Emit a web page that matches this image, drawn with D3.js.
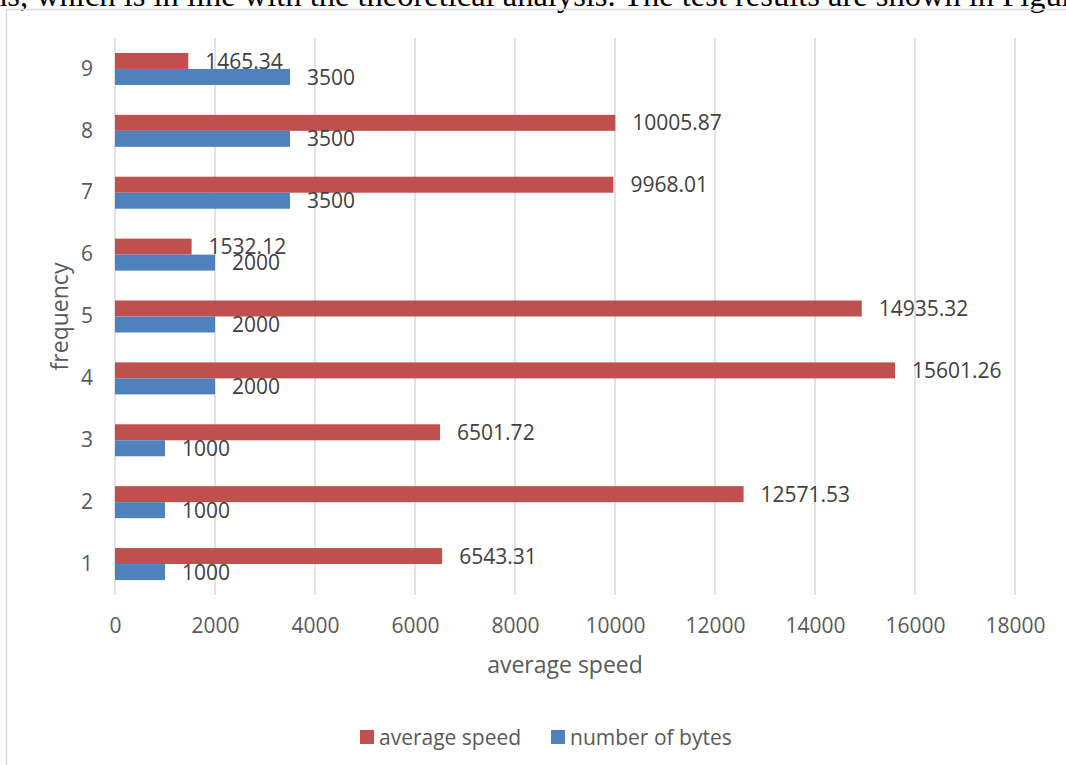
<!DOCTYPE html>
<html>
<head>
<meta charset="utf-8">
<script src="https://cdn.jsdelivr.net/npm/d3@7"></script>
<style>
  body { margin: 0; background: #fff; }
  svg text { font-family: "Open Sans", "Noto Sans", sans-serif; }
</style>
</head>
<body>
<div id="chart"></div>
<script>
// data
var categories = ["1", "2", "3", "4", "5", "6", "7", "8", "9"];
var averageSpeed = [6543.31, 12571.53, 6501.72, 15601.26, 14935.32, 1532.12, 9968.01, 10005.87, 1465.34];
var numberOfBytes = [1000, 1000, 1000, 2000, 2000, 2000, 3500, 3500, 3500];
var xTicks = [0, 2000, 4000, 6000, 8000, 10000, 12000, 14000, 16000, 18000];
var seriesNames = ["average speed", "number of bytes"];
var seriesColors = ["#C0504D", "#4F81BD"];

var width = 1066, height = 765;
var svg = d3.select("#chart").append("svg")
  .attr("width", width)
  .attr("height", height);

// leftover text of the page above the figure
svg.append("text")
  .attr("x", -9)
  .attr("y", 6)
  .attr("font-size", "32.5px")
  .style("font-family", "'Liberation Serif', 'DejaVu Serif', serif")
  .attr("fill", "#000")
  .text("ns, which is in line with the theoretical analysis. The test results are shown in Figure");

// chart frame
svg.append("path")
  .attr("d", "M6.5,770 L6.5,9.5 L1075,9.5")
  .attr("fill", "none")
  .attr("stroke", "#d9d9d9")
  .attr("stroke-width", 1.5);

var plotLeft = 115, plotRight = 1015, plotTop = 38, plotBottom = 595;

var x = d3.scaleLinear().domain([0, 18000]).range([plotLeft, plotRight]);
var y = d3.scaleBand().domain(categories.slice().reverse()).range([plotTop, plotBottom]);
var barH = 16;

// grid
svg.append("g").selectAll("line")
  .data(xTicks)
  .enter()
  .append("line")
  .attr("x1", function(d) { return x(d); })
  .attr("x2", function(d) { return x(d); })
  .attr("y1", plotTop)
  .attr("y2", plotBottom)
  .attr("stroke", "#d9d9d9")
  .attr("stroke-width", 1.5);

// bars
var gBars = svg.append("g");
var series = [averageSpeed, numberOfBytes];
series.forEach(function(values, s) {
  gBars.selectAll("rect.s" + s)
    .data(values)
    .enter()
    .append("rect")
    .attr("class", "s" + s)
    .attr("x", x(0))
    .attr("y", function(d, i) { return y.bandwidth() / 2 + y(categories[i]) - barH + s * barH; })
    .attr("width", function(d) { return x(d) - x(0); })
    .attr("height", barH)
    .attr("fill", seriesColors[s]);

  gBars.selectAll("text.s" + s)
    .data(values)
    .enter()
    .append("text")
    .attr("class", "s" + s)
    .attr("x", function(d) { return x(d) + 17; })
    .attr("y", function(d, i) { return y.bandwidth() / 2 + y(categories[i]) - barH / 2 + s * barH; })
    .attr("dy", "0.36em")
    .attr("font-size", "21px")
    .attr("fill", "#404040")
    .text(function(d) { return d; });
});

// x axis labels
var xAxis = svg.append("g")
  .attr("transform", "translate(0," + plotBottom + ")")
  .call(d3.axisBottom(x).tickValues(xTicks).tickSize(0).tickPadding(23).tickFormat(d3.format("d")));
xAxis.select(".domain").remove();
xAxis.selectAll("text")
  .attr("font-size", "21px")
  .attr("fill", "#595959")
  .style("font-family", "'Open Sans', sans-serif");

// y axis labels
var yAxis = svg.append("g")
  .attr("transform", "translate(" + plotLeft + ",0)")
  .call(d3.axisLeft(y).tickSize(0).tickPadding(22));
yAxis.select(".domain").remove();
yAxis.selectAll("text")
  .attr("font-size", "21px")
  .attr("fill", "#595959")
  .style("font-family", "'Open Sans', sans-serif");

// axis titles
svg.append("text")
  .attr("x", (plotLeft + plotRight) / 2)
  .attr("y", 673)
  .attr("text-anchor", "middle")
  .attr("font-size", "23px")
  .attr("fill", "#595959")
  .text("average speed");

svg.append("text")
  .attr("transform", "translate(68," + (plotTop + plotBottom) / 2 + ") rotate(-90)")
  .attr("text-anchor", "middle")
  .attr("font-size", "23px")
  .attr("fill", "#595959")
  .text("frequency");

// legend
var legendX = [360, 551];
var legend = svg.append("g");
seriesNames.forEach(function(name, s) {
  legend.append("rect")
    .attr("x", legendX[s])
    .attr("y", 730)
    .attr("width", 14)
    .attr("height", 14)
    .attr("fill", seriesColors[s]);
  legend.append("text")
    .attr("x", legendX[s] + 19)
    .attr("y", 737)
    .attr("dy", "0.36em")
    .attr("font-size", "21px")
    .attr("fill", "#595959")
    .text(name);
});
</script>
</body>
</html>
